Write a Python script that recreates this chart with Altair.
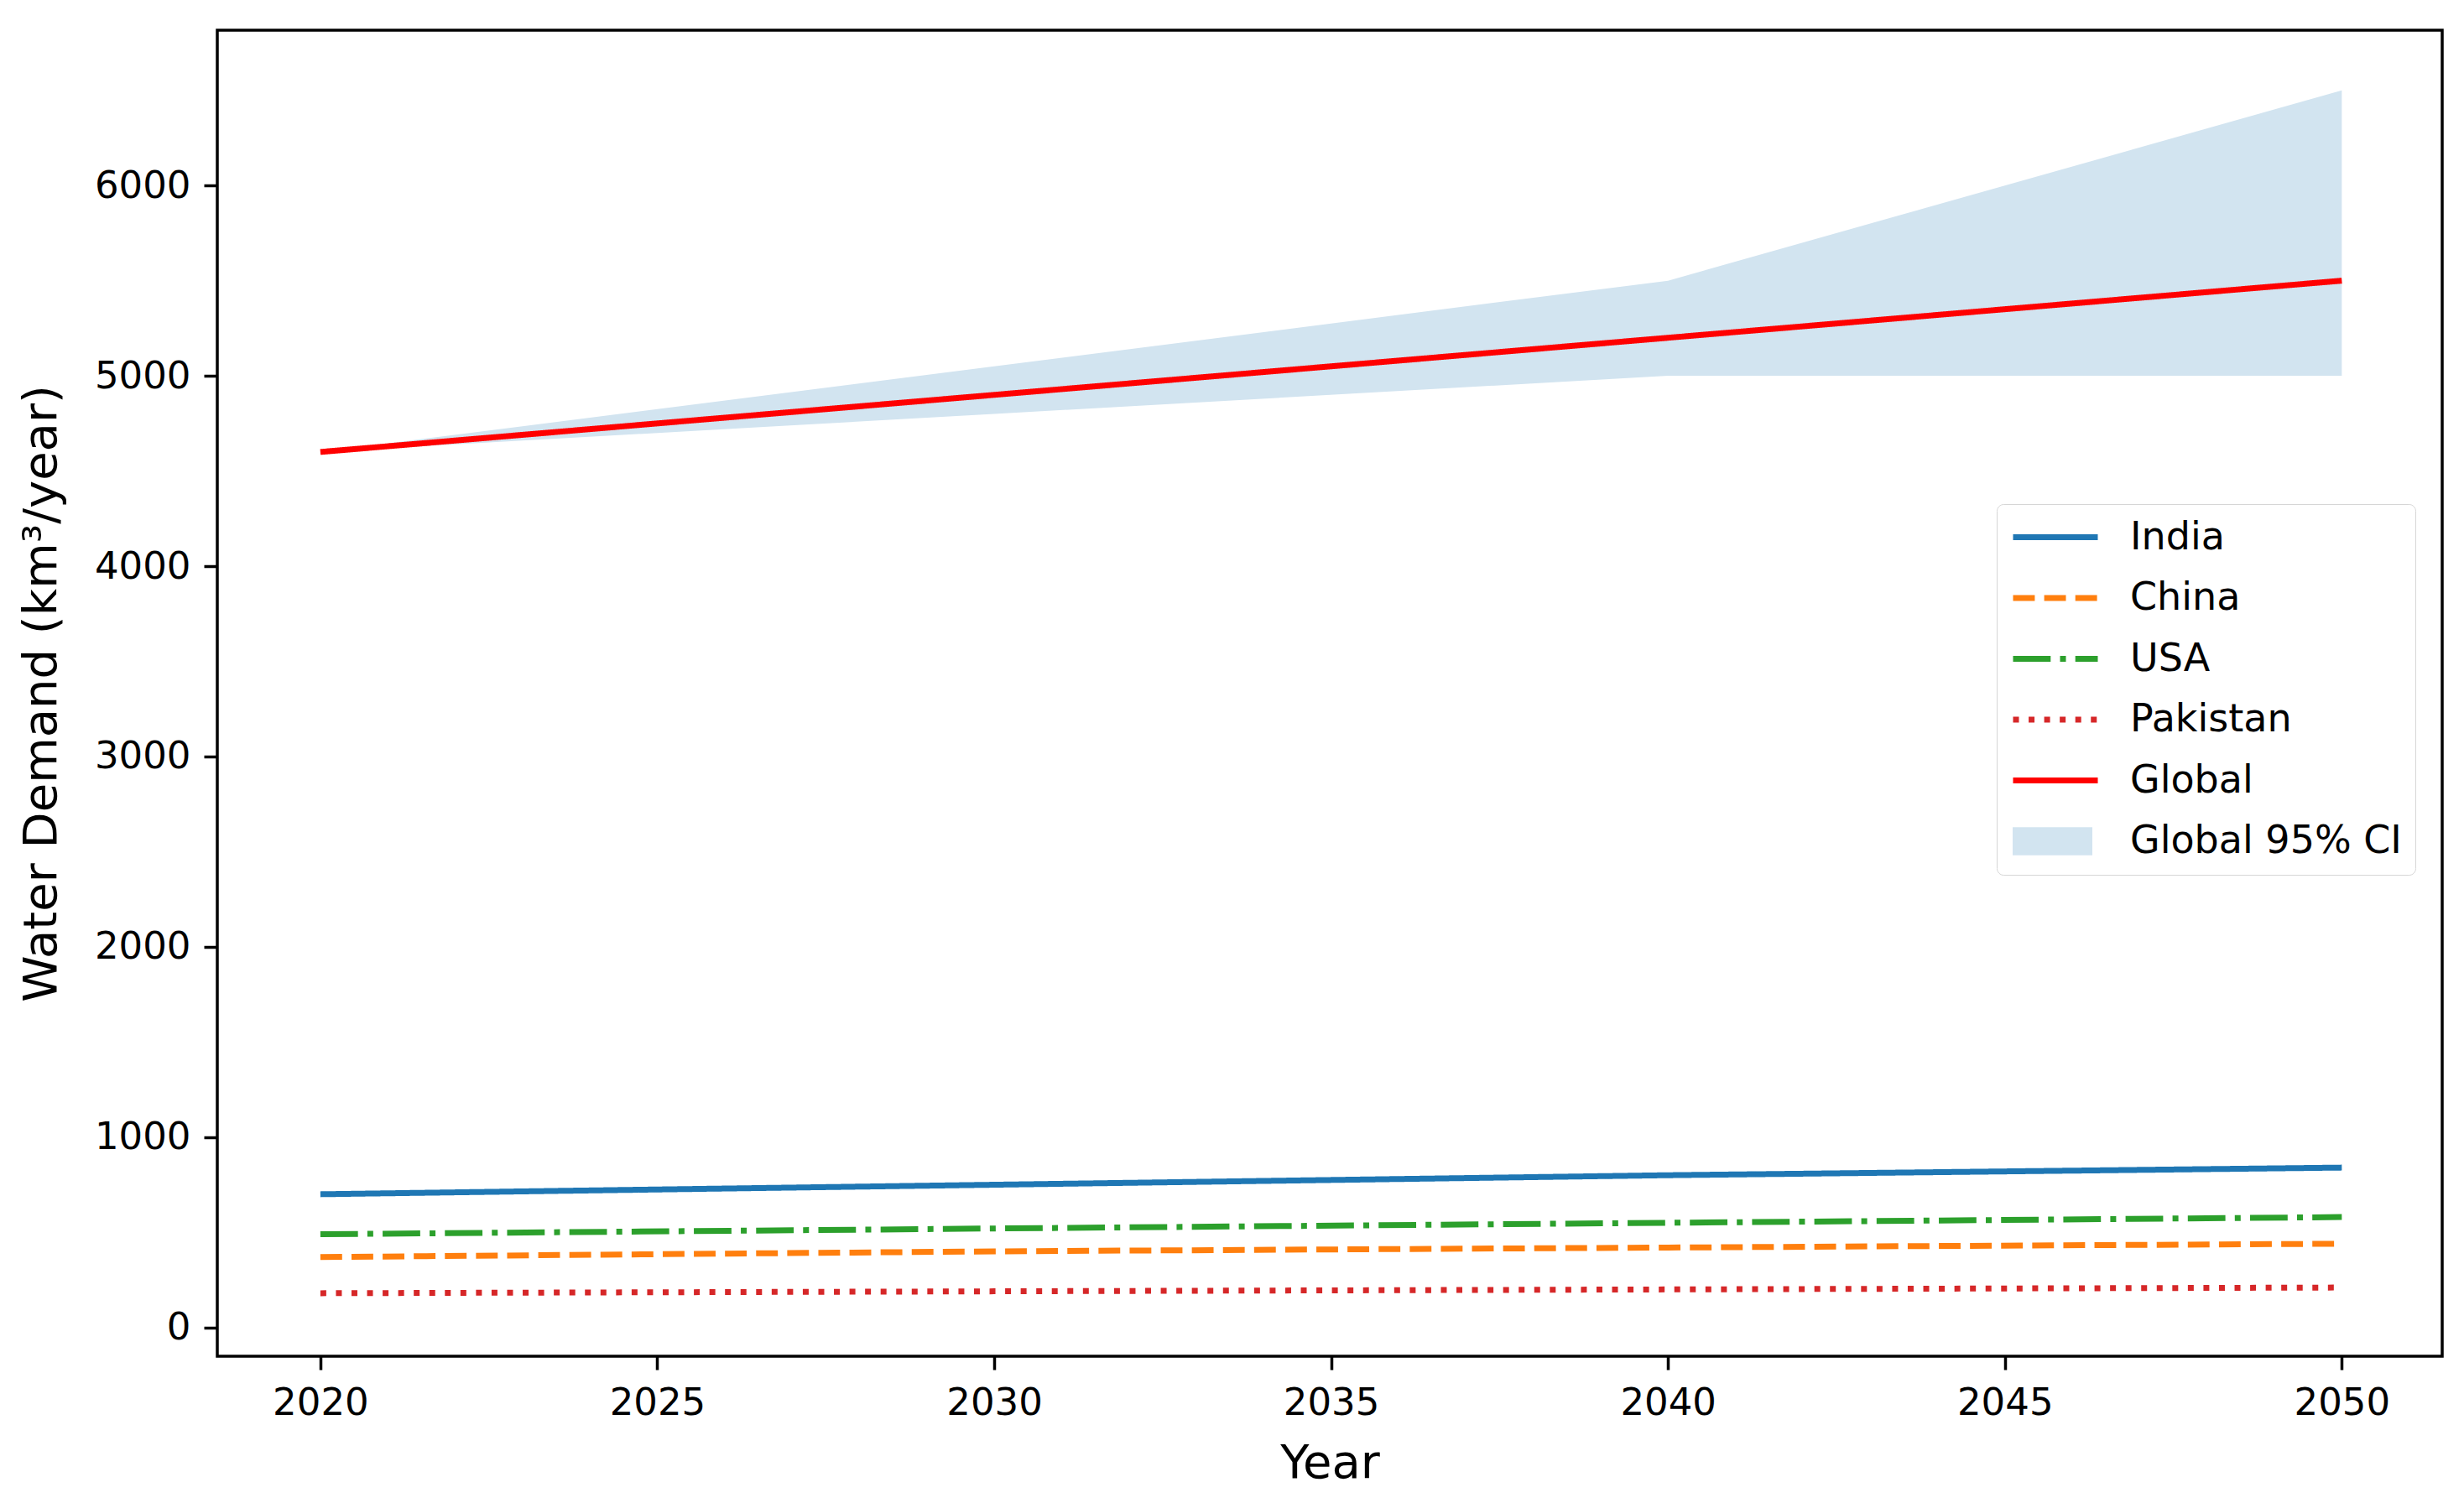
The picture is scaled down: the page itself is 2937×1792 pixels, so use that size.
import altair as alt
import pandas as pd

years = [2020, 2030, 2040, 2050]
india = [700, 750, 800, 840]
china = [370, 400, 420, 440]
usa = [490, 520, 550, 580]
pakistan = [180, 190, 200, 210]
global_demand = [4600, 4900, 5200, 5500]
ci_low = [4600, 4800, 5000, 5000]
ci_high = [4600, 5050, 5500, 6500]

series_names = ["India", "China", "USA", "Pakistan", "Global", "Global 95% CI"]
series_colors = ["#1f77b4", "#ff7f0e", "#2ca02c", "#d62728", "#ff0000", "#d2e4f0"]
series_dashes = [[1, 0], [25.9, 11.2], [44.8, 11.2, 7, 11.2], [7, 11.55], [1, 0], [0, 400]]
ci_label = "Global 95% CI"
ci_color = "#d2e4f0"

rows = []
for name, vals in zip(series_names[:5], [india, china, usa, pakistan, global_demand]):
    for y, v in zip(years, vals):
        rows.append({"Year": y, "Demand": v, "Series": name})
lines_df = pd.DataFrame(rows)
band_df = pd.DataFrame({"Year": years, "Low": ci_low, "High": ci_high, "Band": [ci_label] * len(years)})

FONT = "DejaVu Sans"

xscale = alt.Scale(domain=[2018.47, 2051.49], nice=False, zero=False)
yscale = alt.Scale(domain=[-151, 6816], nice=False, zero=False)

LEG_X = 2121
LEG_Y = 565
ROW_H = 47
ROW_PAD = 25.5
PAD = 16

common_legend = dict(
    title=None,
    orient="none",
    legendX=LEG_X,
    symbolSize=10201,
    clipHeight=ROW_H,
    rowPadding=ROW_PAD,
    padding=PAD,
    labelFontSize=46,
    labelFont=FONT,
    labelColor="black",
    labelOffset=35,
    labelLimit=1000,
)

band = alt.Chart(band_df).mark_area(opacity=1).encode(
    x=alt.X("Year:Q", scale=xscale),
    y=alt.Y("Low:Q", scale=yscale),
    y2="High:Q",
    fill=alt.Fill(
        "Band:N",
        scale=alt.Scale(domain=[ci_label], range=[ci_color]),
        legend=alt.Legend(
            legendY=LEG_Y + 5 * (ROW_H + ROW_PAD),
            symbolType="M-0.94,-0.33H0.94V0.33H-0.94Z",
            symbolStrokeWidth=0,
            labelExpr="''",
            zindex=2,
            **common_legend,
        ),
    ),
)

lines = alt.Chart(lines_df).mark_line(strokeWidth=7, strokeCap="butt").encode(
    x=alt.X(
        "Year:Q",
        scale=xscale,
        axis=alt.Axis(values=[2020, 2025, 2030, 2035, 2040, 2045, 2050], format="d",
                      title="Year", titlePadding=22, labelPadding=17),
    ),
    y=alt.Y(
        "Demand:Q",
        scale=yscale,
        axis=alt.Axis(values=[0, 1000, 2000, 3000, 4000, 5000, 6000], format="d",
                      title="Water Demand (km³/year)", titlePadding=34, labelPadding=16),
    ),
    color=alt.Color(
        "Series:N",
        scale=alt.Scale(domain=series_names, range=series_colors),
        legend=alt.Legend(
            legendY=LEG_Y,
            symbolType="stroke",
            symbolStrokeWidth=7,
            strokeColor="#d6d6d6",
            fillColor="white",
            cornerRadius=8,
            zindex=1,
            **common_legend,
        ),
    ),
    strokeDash=alt.StrokeDash(
        "Series:N",
        scale=alt.Scale(domain=series_names, range=series_dashes),
        legend=None,
    ),
)

chart = (
    alt.layer(band, lines)
    .properties(
        width=2652,
        height=1581,
        autosize=alt.AutoSizeParams(type="none"),
        padding={"left": 251, "top": 28, "right": 18, "bottom": 158},
        background="white",
    )
    .configure_view(stroke="black", strokeWidth=3.5)
    .configure_axis(
        labelFont=FONT,
        titleFont=FONT,
        labelFontSize=45,
        titleFontSize=56,
        titleFontWeight="normal",
        labelColor="black",
        titleColor="black",
        tickColor="black",
        tickWidth=3.5,
        tickSize=16,
        domain=False,
        grid=False,
    )
)

chart.save("out.html", embed_options={"renderer": "svg", "actions": False})
